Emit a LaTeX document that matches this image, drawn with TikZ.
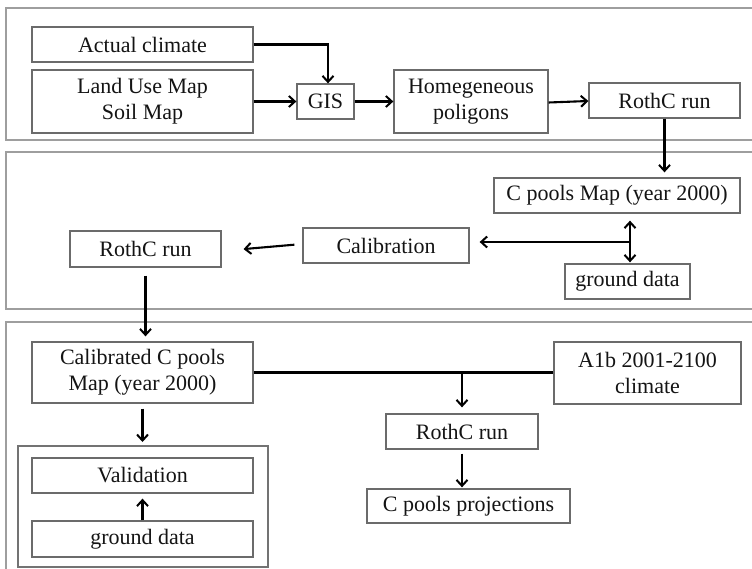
\documentclass[tikz,border=0pt]{standalone}
\usepackage{fontspec}
\setmainfont{Liberation Serif}
\usetikzlibrary{arrows.meta}
\begin{document}
\begin{tikzpicture}[x=1pt,y=-1pt,
  panel/.style={draw=black!38,line width=2pt},
  grp/.style={draw=black!55,line width=1.8pt},
  box/.style={draw=black!58,line width=1.3pt,inner sep=0pt,align=center,
    text=black!92,font=\fontsize{22}{26}\selectfont},
  tip/.style={-{Straight Barb[length=6pt,width=11pt,line width=2pt]}},
  arr/.style={draw=black,line width=2.1pt,tip},
  darr/.style={draw=black,line width=2.1pt,{Straight Barb[length=6pt,width=11pt,line width=2pt]}-{Straight Barb[length=6pt,width=11pt,line width=2pt]}},
  ln/.style={draw=black,line width=2.1pt}]
\useasboundingbox (0,0) rectangle (752,569);
\fill[white] (0,0) rectangle (752,569);
% panels
\draw[panel] (6,8) rectangle (770,140);
\draw[panel] (6,152) rectangle (770,309);
\draw[panel] (6,322) rectangle (770,620);
\draw[grp] (18,446) rectangle (268,567);
% nodes
\node[box,minimum width=221pt,minimum height=35pt] (clim) at (142.5,44.5) {Actual climate};
\node[box,minimum width=221pt,minimum height=63pt] (land) at (142.5,101.5) {Land Use Map\\Soil Map};
\node[box,minimum width=57pt,minimum height=35pt] (gis) at (325.5,101.5) {GIS};
\node[box,minimum width=154pt,minimum height=63pt] (homo) at (471,101.5) {Homegeneous\\poligons};
\node[box,minimum width=151pt,minimum height=35pt] (roth1) at (664.5,100.5) {RothC run};
\node[box,minimum width=246pt,minimum height=35pt] (cmap) at (617,195.5) {C pools Map (year 2000)};
\node[box,minimum width=125pt,minimum height=35pt] (gd1) at (627.5,281.5) {ground data};
\node[box,minimum width=166pt,minimum height=35pt] (calib) at (386,245.5) {Calibration};
\node[box,minimum width=151pt,minimum height=36pt] (roth2) at (145.5,249) {RothC run};
\node[box,minimum width=221pt,minimum height=61pt] (calc) at (142.5,372.5) {Calibrated C pools\\Map (year 2000)};
\node[box,minimum width=187pt,minimum height=62pt] (a1b) at (647.5,373) {A1b 2001-2100\\climate};
\node[box,minimum width=152pt,minimum height=35pt] (roth3) at (462,431.5) {RothC run};
\node[box,minimum width=203pt,minimum height=34pt] (proj) at (468.5,506) {C pools projections};
\node[box,minimum width=221pt,minimum height=35pt] (val) at (142.5,475.5) {Validation};
\node[box,minimum width=221pt,minimum height=36pt] (gd2) at (142.5,539) {ground data};
\coordinate (vgrp) at (142.5,446);
\coordinate (j) at (630,242);
\coordinate (k) at (462,372.5);
% connectors
\draw[arr] (clim.east) -| ([xshift=2.5pt]gis.north);
\draw[arr] (land.east) -- (gis.west);
\draw[arr] (gis.east) -- (homo.west);
\draw[arr] ([yshift=-1pt]homo.east) -- ([yshift=-0.5pt]roth1.west);
\draw[arr,shorten >=5pt] (roth1.south) -- (roth1.south |- cmap.north);
\draw[darr,shorten <=7pt,shorten >=1pt] ([xshift=13pt]cmap.south) -- ([xshift=2.5pt]gd1.north);
\draw[arr,shorten >=10pt] (j) -- (j -| calib.east);
\draw[arr,shorten <=8pt,shorten >=22pt] ([yshift=1.5pt]calib.west) -- ([yshift=-2pt]roth2.east);
\draw[arr,shorten <=8pt,shorten >=5pt] (roth2.south) -- (roth2.south |- calc.north);
\draw[arr,shorten <=5pt,shorten >=4pt] (calc.south) -- (vgrp);
\draw[arr,shorten >=5pt] (gd2.north) -- (val.south);
\draw[ln] (calc.east) -- (calc.east -| a1b.west);
\draw[arr,shorten >=6pt] (k) -- (roth3.north);
\draw[arr,shorten <=4pt,shorten >=1pt] (roth3.south) -- (roth3.south |- proj.north);
\end{tikzpicture}
\end{document}
